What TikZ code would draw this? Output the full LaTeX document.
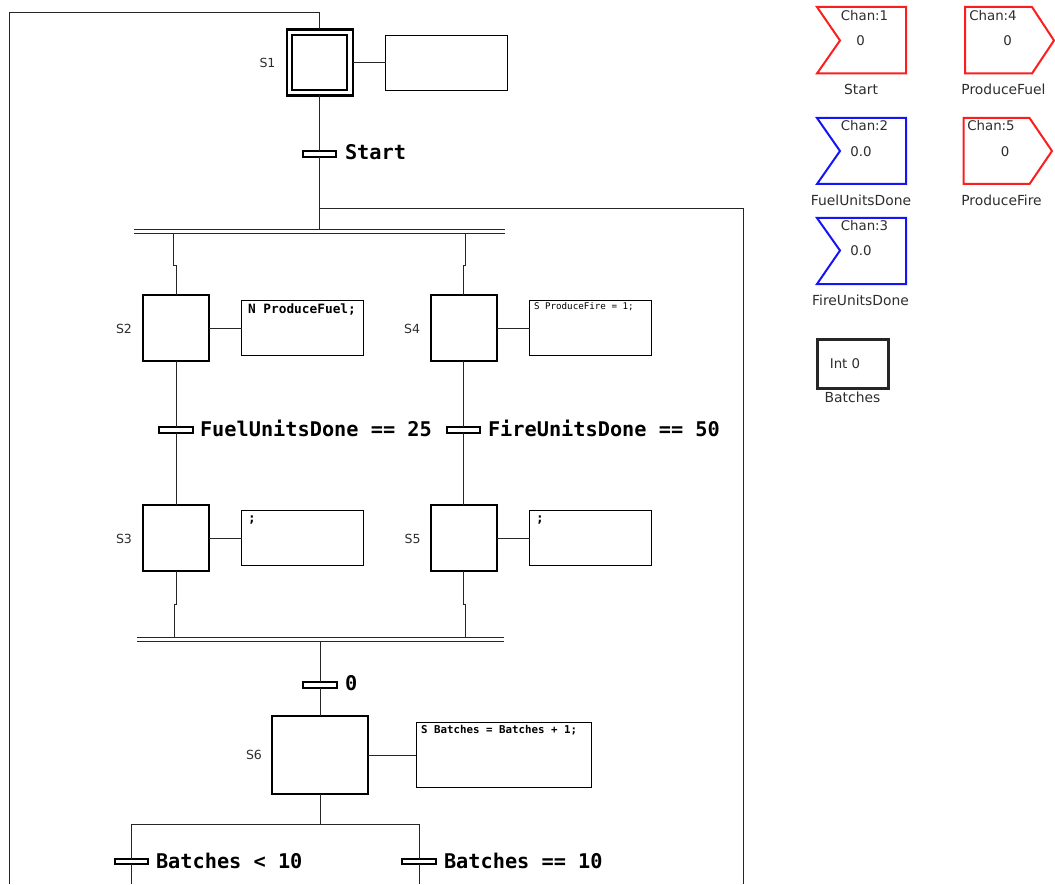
\documentclass[tikz,border=0pt]{standalone}
\usepackage{fontspec}
\setmainfont{DejaVu Sans}
\setmonofont{DejaVu Sans Mono}
\usetikzlibrary{positioning}
\definecolor{chanred}{RGB}{250,30,30}
\definecolor{chanblue}{RGB}{20,20,245}
\definecolor{labelgray}{RGB}{45,45,45}

\begin{document}
\begin{tikzpicture}[x=0.75pt,y=-0.75pt,
    every node/.style={inner sep=0pt,outer sep=0pt},
    wire/.style={line width=0.72pt,black!85},
    stepbox/.style={draw,fill=white,line width=1.6pt,minimum width=49.5pt,minimum height=49.5pt},
    actbox/.style={draw,fill=white,line width=0.72pt,minimum width=91.5pt,minimum height=41.25pt},
    trans/.style={draw,fill=white,line width=1.3pt,minimum width=25pt,minimum height=4pt},
    translabel/.style={anchor=west,font=\fontsize{15.2pt}{17pt}\ttfamily\bfseries},
    steplabel/.style={font=\fontsize{9.4pt}{11pt}\selectfont,text=labelgray},
    chanlabel/.style={font=\fontsize{10pt}{12pt}\selectfont,text=labelgray},
    namelabel/.style={font=\fontsize{10.4pt}{12pt}\selectfont,text=labelgray},
    parbar/.style={minimum height=3pt}]
  \useasboundingbox (0,0) rectangle (1055,884);

  % steps
  \node[stepbox] (S1) at (319.6,62.5) {};
  \node[stepbox,line width=1.5pt,minimum width=41pt,minimum height=41pt] (S1in) at (319.6,62.5) {};
  \node[stepbox] (S2) at (176,328) {};
  \node[stepbox] (S4) at (463.6,328) {};
  \node[stepbox] (S3) at (176,538) {};
  \node[stepbox] (S5) at (463.6,538) {};
  \node[stepbox,minimum width=72pt,minimum height=59pt] (S6) at (320,755) {};
  \node[steplabel] (L1) at (267.5,63) {S1};
  \node[steplabel] (L2) at (124,328.5) {S2};
  \node[steplabel] (L4) at (412,328.5) {S4};
  \node[steplabel] (L3) at (124,538.5) {S3};
  \node[steplabel] (L5) at (412.5,538.5) {S5};
  \node[steplabel] (L6) at (254,754.5) {S6};

  % action boxes
  \node[actbox] (A1) at (446.7,62.5) {};
  \node[actbox] (A2) at (302.9,327.5) {};
  \node[actbox] (A4) at (590.5,327.5) {};
  \node[actbox] (A3) at (302.9,538.4) {};
  \node[actbox] (A5) at (590.5,538.4) {};
  \node[actbox,minimum width=131.25pt,minimum height=48.75pt] (A6) at (503.5,754.5) {};
  \node[anchor=west,font=\fontsize{9.6pt}{11pt}\ttfamily\bfseries] (T2) at (248,309.5) {N ProduceFuel;};
  \node[anchor=west,font=\fontsize{6.9pt}{8pt}\ttfamily] (T4) at (534,307) {S ProduceFire = 1;};
  \node[anchor=west,font=\fontsize{9.6pt}{11pt}\ttfamily\bfseries] (T3) at (248,520.5) {;};
  \node[anchor=west,font=\fontsize{9.6pt}{11pt}\ttfamily\bfseries] (T5) at (536,520.5) {;};
  \node[anchor=west,font=\fontsize{8.1pt}{9pt}\ttfamily\bfseries] (T6) at (421,730) {S Batches = Batches + 1;};

  % transitions
  \node[trans] (t1) at (319.6,154) {};
  \node[trans] (t2) at (176,430) {};
  \node[trans] (t4) at (463.6,430) {};
  \node[trans] (t6) at (320,685) {};
  \node[trans] (t7) at (131.5,861.5) {};
  \node[trans] (t8) at (419,861.5) {};
  \node[translabel] (C1) at (345,152.5) {Start};
  \node[translabel] (C2) at (200,428.5) {FuelUnitsDone == 25};
  \node[translabel] (C4) at (488,428.5) {FireUnitsDone == 50};
  \node[translabel] (C6) at (345,683.5) {0};
  \node[translabel] (C7) at (156,860.5) {Batches < 10};
  \node[translabel] (C8) at (444,860.5) {Batches == 10};

  % parallel bars
  \node[parbar,minimum width=278.25pt] (P1) at (319.5,231) {};
  \node[parbar,minimum width=275.25pt] (P2) at (320.5,639.5) {};
  \draw[wire] (P1.north west) -- (P1.north east);
  \draw[wire] (P1.south west) -- (P1.south east);
  \draw[wire] (P2.north west) -- (P2.north east);
  \draw[wire] (P2.south west) -- (P2.south east);

  % free points of the wires
  \coordinate (top) at (319.6,12);
  \coordinate (left) at (9,12);
  \coordinate (leftend) at (9,884);
  \coordinate (tap) at (319.6,208.5);
  \coordinate (right) at (743,208.5);
  \coordinate (rightend) at (743,884);
  \coordinate (j2a) at (173.5,265);
  \coordinate (j2b) at (176,265);
  \coordinate (j4a) at (465.5,265);
  \coordinate (j4b) at (463.6,265);
  \coordinate (j3a) at (176,604);
  \coordinate (j3b) at (174.5,604);
  \coordinate (j5a) at (463.6,604);
  \coordinate (j5b) at (465,604);
  \coordinate (fork) at (320,824);
  \coordinate (fork7) at (131.5,824);
  \coordinate (fork8) at (419,824);
  \coordinate (end7) at (131.5,884);
  \coordinate (end8) at (419,884);

  \draw[wire] (S1) -- (top) -- (left) -- (leftend);
  \draw[wire] (S1) -- (S1 -| A1.west);
  \draw[wire] (S1) -- (t1);
  \draw[wire] (t1) -- (P1.north -| t1);
  \draw[wire] (tap) -- (right) -- (rightend);
  \draw[wire] (j2a |- P1.south) -- (j2a) -- (j2b) -- (S2);
  \draw[wire] (j4a |- P1.south) -- (j4a) -- (j4b) -- (S4);
  \draw[wire] (S2) -- (S2 -| A2.west);
  \draw[wire] (S4) -- (S4 -| A4.west);
  \draw[wire] (S2) -- (t2);
  \draw[wire] (t2) -- (S3);
  \draw[wire] (S4) -- (t4);
  \draw[wire] (t4) -- (S5);
  \draw[wire] (S3) -- (S3 -| A3.west);
  \draw[wire] (S5) -- (S5 -| A5.west);
  \draw[wire] (S3) -- (j3a) -- (j3b) -- (j3b |- P2.north);
  \draw[wire] (S5) -- (j5a) -- (j5b) -- (j5b |- P2.north);
  \draw[wire] (P2.south -| t6) -- (t6);
  \draw[wire] (t6) -- (S6);
  \draw[wire] (S6) -- (S6 -| A6.west);
  \draw[wire] (S6) -- (fork);
  \draw[wire] (t7) -- (fork7) -- (fork8) -- (t8);
  \draw[wire] (t7) -- (end7);
  \draw[wire] (t8) -- (end8);

  % channels
  \draw[chanred,line width=1.5pt] (817,7) -- (906,7) -- (906,73.5) -- (817,73.5) -- (840,40.5) -- cycle;
  \draw[chanblue,line width=1.5pt] (817,118) -- (906,118) -- (906,184) -- (817,184) -- (840,151) -- cycle;
  \draw[chanblue,line width=1.5pt] (817,218) -- (906,218) -- (906,284) -- (817,284) -- (840,250.5) -- cycle;
  \draw[chanred,line width=1.5pt] (965,7) -- (1032,7) -- (1054,40.5) -- (1032,73.5) -- (965,73.5) -- cycle;
  \draw[chanred,line width=1.5pt] (963.5,118) -- (1029.5,118) -- (1052,151) -- (1029.5,184) -- (963.5,184) -- cycle;
  \node[draw,line width=2.1pt,black!85,minimum width=53.5pt,minimum height=37pt] (B) at (853,364) {};

  \node[chanlabel] (n1) at (864.5,15.5) {Chan:1};
  \node[chanlabel] (v1) at (860.5,41) {0};
  \node[namelabel] (s1) at (861,89.5) {Start};
  \node[chanlabel] (n4) at (993,15.5) {Chan:4};
  \node[chanlabel] (v4) at (1007.5,41) {0};
  \node[namelabel] (s4) at (1003.5,89.5) {ProduceFuel};
  \node[chanlabel] (n2) at (864.5,126) {Chan:2};
  \node[chanlabel] (v2) at (861,151.5) {0.0};
  \node[namelabel] (s2) at (861,200) {FuelUnitsDone};
  \node[chanlabel] (n5) at (991,126) {Chan:5};
  \node[chanlabel] (v5) at (1005,151.5) {0};
  \node[namelabel] (s5) at (1001.5,200) {ProduceFire};
  \node[chanlabel] (n3) at (864.5,226) {Chan:3};
  \node[chanlabel] (v3) at (861,251) {0.0};
  \node[namelabel] (s3) at (860.5,300) {FireUnitsDone};
  \node[chanlabel] (vb) at (845,364) {Int 0};
  \node[namelabel] (sb) at (852.5,397) {Batches};
\end{tikzpicture}
\end{document}
